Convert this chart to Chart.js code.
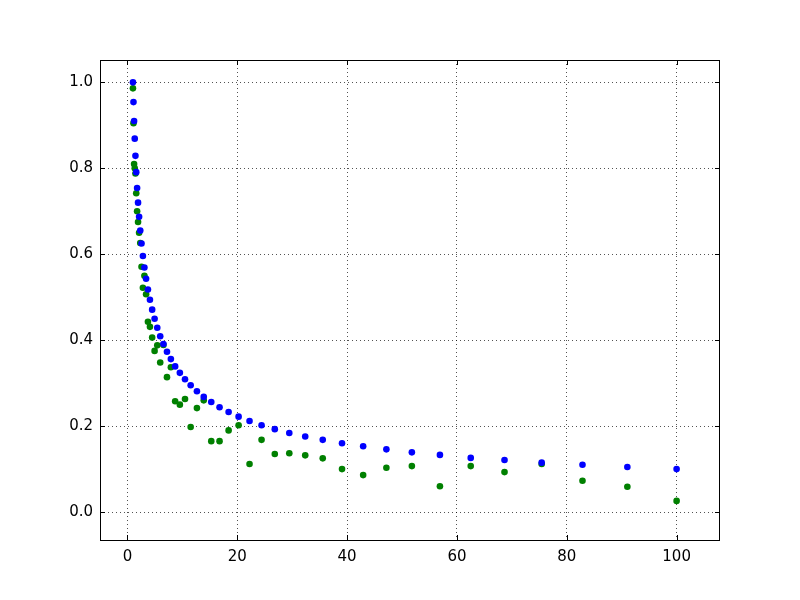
<!DOCTYPE html>
<html>
<head>
<meta charset="utf-8">
<script src="https://cdn.jsdelivr.net/npm/chart.js@4/dist/chart.umd.min.js"></script>
<style>
  html, body { margin: 0; padding: 0; background: #fff; }
  #wrap { width: 800px; height: 600px; position: relative; }
</style>
</head>
<body>
<div id="wrap"><canvas id="chart" width="800" height="600"></canvas></div>
<script>
// x positions (log-spaced samples)
const X_VALUES = [
  1.000, 1.099, 1.207, 1.326, 1.456, 1.600, 1.758, 1.931, 2.121, 2.330,
  2.560, 2.812, 3.089, 3.393, 3.728, 4.095, 4.498, 4.942, 5.429, 5.964,
  6.551, 7.197, 7.906, 8.685, 9.541, 10.48, 11.51, 12.65, 13.89, 15.26,
  16.77, 18.42, 20.24, 22.23, 24.42, 26.83, 29.47, 32.37, 35.56, 39.07,
  42.92, 47.15, 51.79, 56.90, 62.51, 68.66, 75.43, 82.86, 91.03, 100.0,
];
// blue series (smooth curve)
const BLUE_Y = [
  1.000, 0.954, 0.910, 0.869, 0.829, 0.791, 0.754, 0.720, 0.687, 0.655,
  0.625, 0.596, 0.569, 0.543, 0.518, 0.494, 0.471, 0.450, 0.429, 0.409,
  0.391, 0.373, 0.356, 0.339, 0.324, 0.309, 0.295, 0.281, 0.268, 0.256,
  0.244, 0.233, 0.222, 0.212, 0.202, 0.193, 0.184, 0.176, 0.168, 0.160,
  0.153, 0.146, 0.139, 0.133, 0.126, 0.121, 0.115, 0.110, 0.105, 0.100,
];
// green series (noisy)
const GREEN_Y = [
  0.986, 0.905, 0.810, 0.800, 0.788, 0.742, 0.700, 0.675, 0.650, 0.626,
  0.571, 0.522, 0.550, 0.507, 0.443, 0.431, 0.406, 0.375, 0.388, 0.348,
  0.389, 0.314, 0.337, 0.258, 0.250, 0.263, 0.198, 0.242, 0.260, 0.165,
  0.165, 0.190, 0.202, 0.112, 0.168, 0.135, 0.137, 0.132, 0.125, 0.100,
  0.086, 0.103, 0.107, 0.060, 0.107, 0.093, 0.112, 0.073, 0.059, 0.026,
];
const X_TICKS = [0, 20, 40, 60, 80, 100];
const Y_TICKS = [0.0, 0.2, 0.4, 0.6, 0.8, 1.0];

const FONT = { family: 'DejaVu Sans', size: 15 };

// matplotlib-style frame with inward ticks on all four sides
const frameTicks = {
  id: 'frameTicks',
  afterDraw(chart) {
    const { ctx, chartArea: a, scales } = chart;
    const L = 5;
    ctx.save();
    ctx.strokeStyle = '#000';
    ctx.lineWidth = 1;
    ctx.beginPath();
    for (const v of X_TICKS) {
      const x = Math.round(scales.x.getPixelForValue(v)) + 0.5;
      ctx.moveTo(x, a.bottom); ctx.lineTo(x, a.bottom - L);
      ctx.moveTo(x, a.top); ctx.lineTo(x, a.top + L);
    }
    for (const v of Y_TICKS) {
      const y = Math.round(scales.y.getPixelForValue(v)) + 0.5;
      ctx.moveTo(a.left, y); ctx.lineTo(a.left + L, y);
      ctx.moveTo(a.right, y); ctx.lineTo(a.right - L, y);
    }
    ctx.stroke();
    ctx.strokeRect(Math.round(a.left) + 0.5, Math.round(a.top) + 0.5,
      Math.round(a.right - a.left) - 1, Math.round(a.bottom - a.top));
    ctx.restore();
  },
};

const gridOpts = {
  color: 'rgba(0,0,0,0.85)',
  lineWidth: 0.8,
  drawTicks: false,
};

new Chart(document.getElementById('chart'), {
  type: 'scatter',
  data: {
    datasets: [
      {
        data: X_VALUES.map((x, i) => ({ x, y: BLUE_Y[i] })),
        backgroundColor: '#0000ff',
        borderColor: '#0000ff',
        borderWidth: 0,
        pointRadius: 3.3,
      },
      {
        data: X_VALUES.map((x, i) => ({ x, y: GREEN_Y[i] })),
        backgroundColor: '#008000',
        borderColor: '#008000',
        borderWidth: 0,
        pointRadius: 3.3,
      },
    ],
  },
  options: {
    responsive: false,
    animation: false,
    devicePixelRatio: 1,
    layout: { padding: { left: 0, top: 60, right: 80, bottom: 0 } },
    scales: {
      x: {
        type: 'linear',
        min: -5, max: 107.9,
        afterFit: s => { s.height = 60; },
        border: { display: false, dash: [1, 3] },
        grid: gridOpts,
        ticks: {
          stepSize: 20, includeBounds: false, padding: 8,
          color: '#000', font: FONT, maxRotation: 0,
        },
      },
      y: {
        type: 'linear',
        min: -0.065, max: 1.052,
        afterFit: s => { s.width = 100; },
        border: { display: false, dash: [1, 3] },
        grid: gridOpts,
        ticks: {
          stepSize: 0.2, includeBounds: false, padding: 7,
          color: '#000', font: FONT,
          callback: v => v.toFixed(1),
        },
      },
    },
    plugins: {
      legend: { display: false },
      tooltip: { enabled: false },
    },
  },
  plugins: [frameTicks],
});
</script>
</body>
</html>
